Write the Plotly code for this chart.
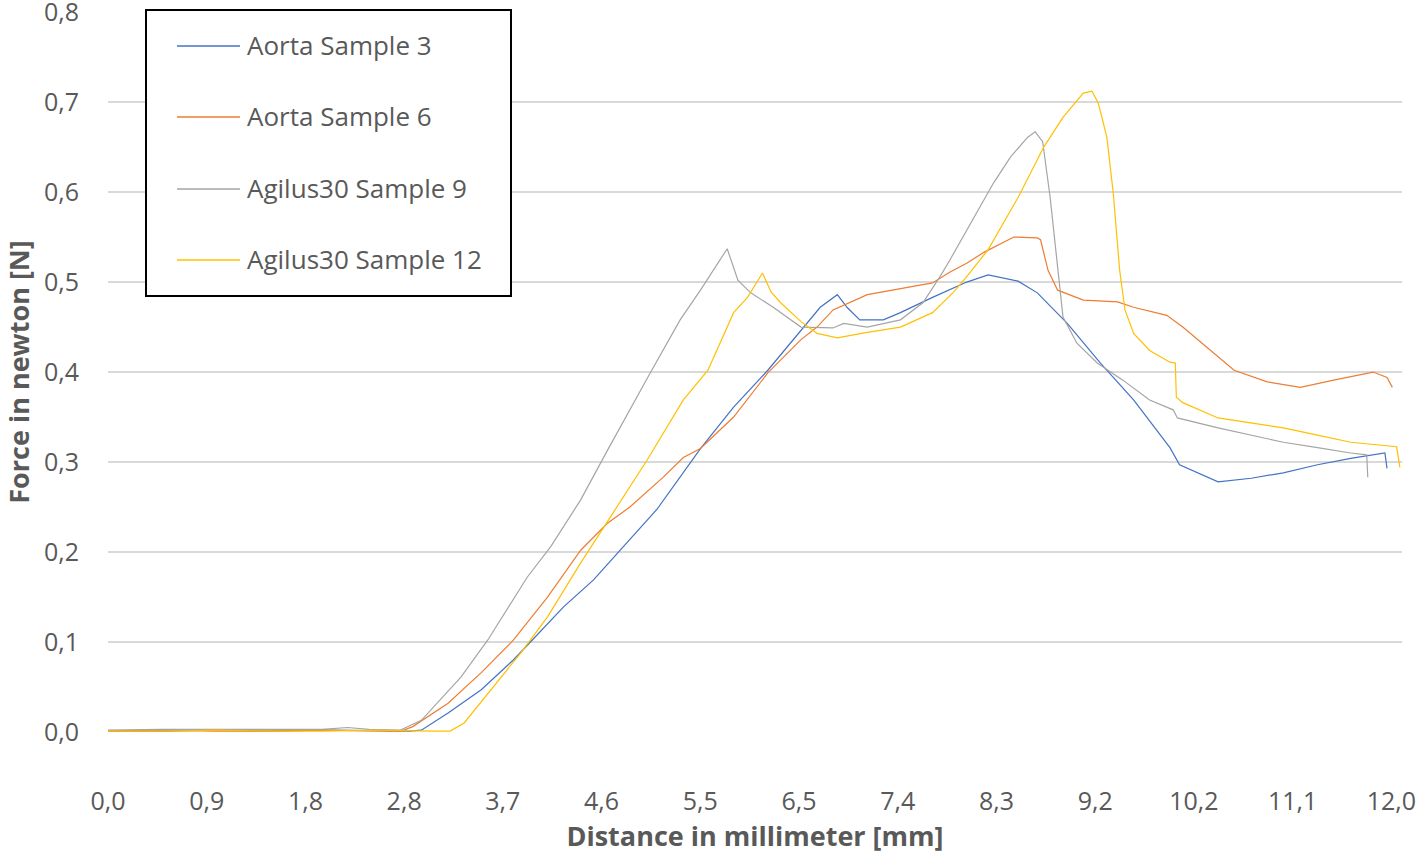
import plotly.graph_objects as go

# ---------------- data (distance in mm, force in N) ----------------
aorta3_x = [0.0, 0.5, 1.0, 1.5, 2.0, 2.5, 2.82, 2.93, 3.18, 3.49, 3.79, 3.95, 4.26, 4.54, 4.79,
            5.13, 5.54, 5.85, 6.17, 6.48, 6.66, 6.82, 6.91, 7.03, 7.25, 7.41, 7.71, 8.03, 8.23,
            8.51, 8.69, 8.97, 9.28, 9.59, 9.93, 10.02, 10.38, 10.69, 10.99, 11.31, 11.62, 11.94, 11.96]
aorta3_y = [0.001, 0.001, 0.002, 0.001, 0.002, 0.001, 0.001, 0.002, 0.021, 0.047, 0.080, 0.100, 0.139,
            0.169, 0.202, 0.247, 0.315, 0.361, 0.402, 0.447, 0.472, 0.486, 0.472, 0.458, 0.458, 0.466,
            0.483, 0.500, 0.508, 0.501, 0.488, 0.454, 0.410, 0.369, 0.316, 0.297, 0.278, 0.282, 0.288,
            0.297, 0.304, 0.310, 0.293]

aorta6_x = [0.0, 0.5, 1.0, 1.5, 2.0, 2.5, 2.74, 2.85, 3.18, 3.49, 3.79, 4.11, 4.42, 4.67, 4.88, 5.19,
            5.38, 5.54, 5.85, 6.17, 6.48, 6.63, 6.78, 7.10, 7.41, 7.71, 7.87, 8.03, 8.19, 8.35, 8.47,
            8.69, 8.72, 8.79, 8.88, 9.12, 9.44, 9.59, 9.90, 10.05, 10.38, 10.53, 10.84, 11.15, 11.46,
            11.83, 11.96, 12.01]
aorta6_y = [0.001, 0.002, 0.001, 0.001, 0.002, 0.001, 0.001, 0.006, 0.032, 0.066, 0.102, 0.150, 0.202,
            0.232, 0.250, 0.283, 0.305, 0.315, 0.350, 0.399, 0.436, 0.450, 0.469, 0.486, 0.493, 0.499,
            0.511, 0.521, 0.533, 0.543, 0.550, 0.549, 0.547, 0.513, 0.491, 0.480, 0.478, 0.472, 0.463,
            0.450, 0.417, 0.402, 0.389, 0.383, 0.391, 0.400, 0.394, 0.383]

agilus9_x = [0.0, 0.5, 1.0, 1.5, 2.0, 2.24, 2.44, 2.73, 2.93, 3.30, 3.55, 3.92, 4.14, 4.42, 4.67, 5.07,
             5.35, 5.54, 5.79, 5.89, 6.01, 6.22, 6.48, 6.78, 6.88, 7.10, 7.41, 7.62, 7.78, 7.87, 8.07,
             8.28, 8.44, 8.60, 8.67, 8.74, 8.81, 8.88, 8.93, 9.06, 9.25, 9.49, 9.74, 9.96, 10.00, 10.38,
             10.69, 10.99, 11.31, 11.62, 11.77, 11.78]
agilus9_y = [0.002, 0.003, 0.003, 0.003, 0.003, 0.005, 0.003, 0.002, 0.013, 0.061, 0.102, 0.172, 0.206,
             0.258, 0.313, 0.399, 0.458, 0.491, 0.537, 0.502, 0.488, 0.472, 0.450, 0.449, 0.454, 0.450,
             0.458, 0.477, 0.506, 0.524, 0.566, 0.610, 0.639, 0.661, 0.667, 0.656, 0.594, 0.513, 0.461,
             0.432, 0.410, 0.391, 0.369, 0.358, 0.349, 0.338, 0.330, 0.322, 0.316, 0.310, 0.308, 0.283]

agilus12_x = [0.0, 0.5, 1.0, 1.5, 2.0, 2.5, 3.04, 3.20, 3.33, 3.58, 3.86, 4.11, 4.42, 4.72, 5.04, 5.38,
              5.61, 5.85, 5.98, 6.12, 6.20, 6.29, 6.48, 6.63, 6.82, 7.10, 7.41, 7.71, 7.90, 8.03, 8.23,
              8.51, 8.75, 8.93, 9.12, 9.20, 9.26, 9.34, 9.40, 9.46, 9.51, 9.59, 9.74, 9.93, 9.98, 9.99,
              10.05, 10.38, 10.69, 10.99, 11.31, 11.62, 12.05, 12.08]
agilus12_y = [0.001, 0.001, 0.002, 0.001, 0.001, 0.002, 0.001, 0.001, 0.010, 0.047, 0.088, 0.128, 0.188,
              0.243, 0.302, 0.369, 0.402, 0.466, 0.483, 0.510, 0.489, 0.477, 0.456, 0.443, 0.438, 0.444,
              0.450, 0.466, 0.488, 0.506, 0.536, 0.594, 0.650, 0.683, 0.710, 0.712, 0.699, 0.661, 0.599,
              0.513, 0.469, 0.443, 0.424, 0.411, 0.410, 0.372, 0.366, 0.349, 0.343, 0.338, 0.330, 0.322,
              0.317, 0.294]

series_names = ["Aorta Sample 3", "Aorta Sample 6", "Agilus30 Sample 9", "Agilus30 Sample 12"]
series_colors = ["#4472C4", "#ED7D31", "#A5A5A5", "#FFC000"]

x_tick_values = [k * 12 / 13 for k in range(14)]
x_tick_labels = ["0,0", "0,9", "1,8", "2,8", "3,7", "4,6", "5,5", "6,5", "7,4", "8,3", "9,2",
                 "10,2", "11,1", "12,0"]
y_tick_values = [0.0, 0.1, 0.2, 0.3, 0.4, 0.5, 0.6, 0.7, 0.8]
y_tick_labels = ["0,0", "0,1", "0,2", "0,3", "0,4", "0,5", "0,6", "0,7", "0,8"]

# ---------------- figure ----------------
W, H = 1418, 866
L, R, T, B = 108, 16, 12, 134
PW, PH = W - L - R, H - T - B

FONT = "'Open Sans', 'Noto Sans', sans-serif"
TXT = "#595959"

fig = go.Figure()
all_x = [aorta3_x, aorta6_x, agilus9_x, agilus12_x]
all_y = [aorta3_y, aorta6_y, agilus9_y, agilus12_y]
for name, color, xs, ys in zip(series_names, series_colors, all_x, all_y):
    fig.add_trace(go.Scatter(x=xs, y=ys, mode="lines", name=name,
                             line=dict(color=color, width=1.2), showlegend=False))


def px_x(p):
    # pixel -> paper fraction
    return (p - L) / PW


def px_y(p):
    return (H - B - p) / PH


# manual legend box (Excel style)
shapes = [dict(type="rect", xref="paper", yref="paper",
               x0=px_x(146), x1=px_x(511), y0=px_y(296), y1=px_y(10),
               line=dict(color="black", width=2), fillcolor="white", layer="above")]
annotations = []
rows = [46, 117, 189, 260]
for name, color, ry in zip(series_names, series_colors, rows):
    shapes.append(dict(type="line", xref="paper", yref="paper",
                       x0=px_x(177), x1=px_x(240), y0=px_y(ry), y1=px_y(ry),
                       line=dict(color=color, width=1.5), layer="above"))
    annotations.append(dict(xref="paper", yref="paper", x=px_x(245), y=px_y(ry - 1),
                            xanchor="left", yanchor="middle", text=name, showarrow=False,
                            font=dict(family=FONT, size=26, color=TXT)))

fig.update_layout(
    width=W, height=H,
    margin=dict(l=L, r=R, t=T, b=B, autoexpand=False),
    paper_bgcolor="white", plot_bgcolor="white",
    font=dict(family=FONT, color=TXT),
    shapes=shapes, annotations=annotations,
    showlegend=False,
    xaxis=dict(range=[0.0, 12.10], tickmode="array",
               tickvals=x_tick_values, ticktext=x_tick_labels,
               showgrid=False, zeroline=False, showline=False, ticks="",
               ticklabelstandoff=52, ticklabeloverflow="allow",
               tickfont=dict(family=FONT, size=25, color=TXT),
               title=dict(text="<b>Distance in millimeter [mm]</b>", standoff=0,
                          font=dict(family=FONT, size=27, color=TXT)),
               automargin=False),
    yaxis=dict(range=[0, 0.8001], tickmode="array", tickvals=y_tick_values, ticktext=y_tick_labels,
               showgrid=True, gridcolor="#D9D9D9", gridwidth=1.5, zeroline=False,
               showline=False, ticks="", ticklabelstandoff=28, ticklabeloverflow="allow",
               tickfont=dict(family=FONT, size=25, color=TXT),
               title=dict(text="<b>Force in newton [N]</b>", standoff=17,
                          font=dict(family=FONT, size=27, color=TXT)),
               automargin=False),
)

# remove the browser's default 8px body margin so the figure fills the window exactly
fig.write_html("out.html", config={"displayModeBar": False},
               post_script="document.body.style.margin='0';document.body.style.overflow='hidden';")
